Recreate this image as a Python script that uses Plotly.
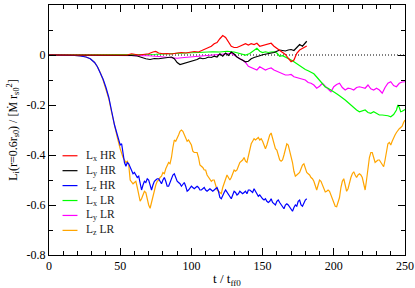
import plotly.graph_objects as go

# ---------------- data ----------------
t_lz_hr = [0, 10, 18, 22, 26, 29, 32, 34, 36, 38, 40, 42, 44, 46, 48, 49, 50, 51, 52, 53, 54, 55, 56, 57, 58, 59,
           60, 61, 62, 63, 64, 65, 66, 67, 68, 69, 70, 71, 72, 73, 74, 75, 76, 77, 78, 79, 80, 81, 82, 83, 84, 85,
           86, 87, 88, 89, 90, 91, 92, 93, 94, 95, 96, 97, 98, 99, 100, 101, 102, 103, 104, 105, 106, 107, 108,
           109, 110, 111, 112, 113, 114, 115, 116, 117, 118, 119, 120, 121, 122, 123, 124, 125, 126, 127, 128,
           129, 130, 131, 132, 133, 134, 135, 136, 137, 138, 139, 140, 141, 142, 143, 144, 145, 146, 147, 148,
           149, 150, 151, 152, 153, 154, 155, 156, 157, 158, 159, 160, 161, 162, 163, 164, 165, 166, 167, 168,
           169, 170, 171, 172, 173, 174, 175, 176, 177, 178, 179, 180, 181]
lz_hr = [0, 0, -0.002, -0.004, -0.008, -0.015, -0.03, -0.047, -0.07, -0.097, -0.13, -0.17, -0.225, -0.28, -0.32,
         -0.345, -0.36, -0.355, -0.39, -0.43, -0.445, -0.43, -0.435, -0.45, -0.46, -0.475,
         -0.47, -0.48, -0.49, -0.485, -0.51, -0.54, -0.52, -0.505, -0.51, -0.495, -0.5, -0.52, -0.54, -0.52, -0.505,
         -0.5, -0.495, -0.495, -0.505, -0.515, -0.5, -0.49, -0.505, -0.525, -0.525, -0.51,
         -0.495, -0.48, -0.475, -0.49, -0.505, -0.51, -0.515, -0.525, -0.515, -0.51, -0.525, -0.545, -0.54, -0.53,
         -0.525, -0.53, -0.535, -0.53, -0.525, -0.53, -0.54, -0.54, -0.535,
         -0.53, -0.54, -0.545, -0.54, -0.535, -0.54, -0.545, -0.54, -0.535, -0.53, -0.545, -0.57, -0.575, -0.56,
         -0.55, -0.54, -0.55, -0.56, -0.57, -0.575,
         -0.56, -0.545, -0.55, -0.56, -0.555, -0.545, -0.55, -0.555, -0.55, -0.545, -0.555, -0.54, -0.54, -0.545,
         -0.55, -0.535, -0.545, -0.56, -0.565, -0.56,
         -0.57, -0.575, -0.58, -0.575, -0.585, -0.59, -0.585, -0.575, -0.59, -0.595, -0.6, -0.585, -0.58, -0.59,
         -0.6, -0.61, -0.615, -0.6, -0.595, -0.6,
         -0.61, -0.62, -0.625, -0.61, -0.6, -0.605, -0.585, -0.58, -0.6, -0.605, -0.59, -0.58, -0.575]

t_lz_lr = [0, 10, 18, 22, 26, 29, 32, 34, 36, 38, 40, 42, 44, 46, 48, 50, 51, 52, 53, 54, 55, 56, 57, 58, 59,
           60, 61, 62, 63, 64, 65, 66, 67, 68, 69, 70, 71, 72, 73, 74, 75, 76, 77, 78, 79, 80, 81, 82, 83, 84, 85,
           86, 87, 88, 89, 90, 91, 92, 93, 94, 95, 96, 97, 98, 99, 100, 101, 102, 103, 104, 105, 106, 107, 108,
           109, 110, 111, 112, 113, 114, 115, 116, 117, 118, 119, 120, 121, 122, 123, 124, 125, 126, 127, 128,
           129, 130, 131, 132, 133, 134, 135, 136, 137, 138, 139, 140, 141, 142, 143, 144, 145, 146, 147, 148,
           149, 150, 151, 152, 153, 154, 155, 156, 157, 158, 159, 160, 161, 162, 163, 164, 165, 166, 167, 168,
           169, 170, 171, 172, 173, 174, 175, 176, 177, 178, 179, 180, 181, 182, 183, 184, 185, 186, 187, 188,
           189, 190, 191, 192, 193, 194, 195, 196, 197, 198, 199, 200, 201, 202, 203, 204, 205, 206, 207, 208,
           209, 210, 211, 212, 213, 214, 215, 216, 217, 218, 219, 220, 221, 222, 223, 224, 225, 226, 227, 228,
           229, 230, 231, 232, 233, 234, 235, 236, 237, 238, 239, 240, 241, 242, 243, 244, 245, 246, 247, 248,
           249, 250]
lz_lr = [0, 0, -0.002, -0.004, -0.008, -0.015, -0.03, -0.047, -0.07, -0.1, -0.135, -0.175, -0.23, -0.285, -0.33,
         -0.375, -0.395, -0.41, -0.42, -0.43, -0.425, -0.44, -0.5, -0.51, -0.515,
         -0.51, -0.505, -0.53, -0.56, -0.585, -0.575, -0.555, -0.545, -0.55, -0.58, -0.6, -0.613, -0.59, -0.56,
         -0.535, -0.52, -0.505, -0.5, -0.49, -0.485, -0.47, -0.475, -0.455, -0.44, -0.43, -0.435,
         -0.41, -0.37, -0.34, -0.345, -0.335, -0.32, -0.305, -0.3, -0.305, -0.32, -0.33, -0.345, -0.34, -0.35,
         -0.36, -0.385, -0.39, -0.39, -0.39, -0.41, -0.44, -0.445, -0.45,
         -0.46, -0.46, -0.48, -0.49, -0.5, -0.505, -0.5, -0.5, -0.52, -0.54, -0.545, -0.55, -0.555, -0.53, -0.51,
         -0.49, -0.48, -0.49, -0.5, -0.49,
         -0.47, -0.46, -0.465, -0.46, -0.445, -0.43, -0.425, -0.42, -0.41, -0.425, -0.43, -0.4, -0.38, -0.355,
         -0.345, -0.335, -0.34, -0.335, -0.33, -0.34,
         -0.335, -0.345, -0.36, -0.375, -0.36, -0.34, -0.32, -0.312, -0.33, -0.35, -0.375, -0.38, -0.4, -0.42,
         -0.425, -0.42, -0.4, -0.38, -0.355, -0.36,
         -0.385, -0.4, -0.43, -0.465, -0.485, -0.48, -0.475, -0.47, -0.455, -0.44, -0.435, -0.455, -0.47, -0.475,
         -0.48, -0.49, -0.495, -0.505, -0.52, -0.54,
         -0.52, -0.5, -0.505, -0.52, -0.54, -0.548, -0.545, -0.54, -0.545, -0.56, -0.58, -0.595, -0.605, -0.607,
         -0.59, -0.57, -0.53, -0.505, -0.495, -0.52,
         -0.545, -0.535, -0.51, -0.49, -0.475, -0.467, -0.48, -0.49, -0.48, -0.475, -0.48, -0.49, -0.515, -0.54,
         -0.5, -0.45, -0.41, -0.39, -0.39, -0.41,
         -0.43, -0.425, -0.42, -0.42, -0.43, -0.44, -0.447, -0.42, -0.38, -0.355, -0.35, -0.36, -0.345, -0.33,
         -0.32, -0.31, -0.3, -0.295, -0.29, -0.285,
         -0.27, -0.26]

t_lx_hr = [0, 55, 58, 60, 63, 66, 70, 73, 75, 77, 80, 83, 86, 90, 93, 96, 99, 102, 105, 108, 111, 114, 116, 118,
           120, 122, 124, 126, 128, 130, 132, 134, 136, 138, 140, 142, 144, 146, 148, 150, 152, 154, 156, 158,
           160, 162, 164, 166, 168, 170, 172, 174, 176, 178, 180, 181]
lx_hr = [0, 0, 0.005, 0.002, 0, 0.002, 0.005, 0.012, 0.014, 0.008, 0.005, 0.006, 0.004, 0.008, 0.01, 0.008,
         0.012, 0.014, 0.012, 0.02, 0.03, 0.035, 0.045, 0.05, 0.065, 0.078, 0.07, 0.05, 0.035, 0.03, 0.03,
         0.035, 0.04, 0.045, 0.04, 0.045, 0.042, 0.047, 0.035, 0.038, 0.04, 0.045, 0.047, 0.035, 0.027, 0.02,
         0.01, 0.002, -0.013, -0.027, -0.02, 0.007, 0.02, 0.027, 0.033, 0.036]

t_ly_hr = [0, 55, 58, 62, 65, 68, 71, 74, 77, 80, 83, 86, 88, 90, 92, 94, 96, 98, 100, 102, 104, 106, 108, 110,
           112, 114, 116, 118, 120, 122, 124, 126, 128, 130, 132, 134, 136, 138, 140, 142, 144, 146, 148, 150,
           152, 154, 156, 158, 160, 162, 164, 166, 168, 170, 172, 174, 176, 178, 180, 181]
ly_hr = [0, 0, -0.002, -0.004, -0.01, -0.015, -0.018, -0.014, -0.015, -0.012, -0.01, -0.008, -0.015, -0.03,
         -0.038, -0.035, -0.03, -0.028, -0.025, -0.02, -0.018, -0.012, -0.015, -0.013, -0.008, -0.01, -0.005,
         -0.008, 0.005, -0.005, 0.008, -0.002, 0.012, 0.004, -0.008, -0.015, -0.022, -0.027, -0.025, -0.015,
         -0.01, -0.005, -0.003, 0.001, 0.003, 0.005, 0.008, 0.01, 0.015, 0.02, 0.018, 0.016, 0.02, 0.022, 0.018,
         0.03, 0.042, 0.035, 0.05, 0.055]

t_lx_lr = [0, 60, 65, 70, 75, 80, 85, 90, 95, 100, 105, 110, 115, 120, 125, 130, 135, 138, 141, 144, 146, 148,
           150, 152, 154, 156, 158, 160, 162, 164, 166, 168, 170, 172, 174, 176, 178, 180, 182, 184, 186, 188,
           190, 192, 194, 196, 198, 200, 202, 204, 206, 208, 210, 212, 214, 216, 218, 220, 222, 224, 226, 228,
           230, 232, 234, 236, 238, 240, 242, 244, 245, 246, 247, 248, 249, 250]
lx_lr = [0, 0, 0.001, 0.002, 0.003, 0.004, 0.006, 0.007, 0.008, 0.009, 0.01, 0.012, 0.013, 0.012, 0.015, 0.012,
         0.005, 0.0, 0.006, 0.02, 0.027, 0.015, 0.01, 0.013, 0.01, 0.012, 0.013, 0.008, -0.005, -0.003, -0.008,
         -0.015, -0.02, -0.027, -0.035, -0.045, -0.053, -0.058, -0.063, -0.07, -0.075, -0.088, -0.1, -0.115,
         -0.128, -0.133, -0.14, -0.145, -0.155, -0.163, -0.17, -0.18, -0.19, -0.2, -0.213, -0.22, -0.227, -0.222,
         -0.22, -0.23, -0.233, -0.227, -0.235, -0.24, -0.24, -0.24, -0.243, -0.247, -0.238, -0.22, -0.2, -0.21,
         -0.227, -0.225, -0.22, -0.218]

t_ly_lr = [0, 60, 65, 70, 75, 80, 85, 90, 95, 100, 105, 110, 115, 120, 125, 128, 130, 132, 134, 136, 138, 140,
           142, 144, 146, 148, 150, 152, 154, 156, 158, 160, 162, 164, 166, 168, 170, 172, 174, 176, 178, 180,
           182, 184, 186, 188, 190, 192, 194, 196, 198, 200, 202, 204, 206, 208, 210, 212, 214, 216, 218, 220,
           222, 224, 226, 228, 230, 232, 234, 236, 238, 240, 242, 244, 246, 248, 250]
ly_lr = [0, 0, -0.002, -0.003, -0.005, -0.008, -0.013, -0.013, -0.01, -0.008, -0.005, -0.003, 0, 0.003, 0.005,
         0.007, 0, -0.01, -0.015, -0.02, -0.03, -0.045, -0.05, -0.058, -0.06, -0.047, -0.052, -0.06, -0.055,
         -0.052, -0.06, -0.065, -0.073, -0.075, -0.08, -0.08, -0.078, -0.087, -0.09, -0.093, -0.095, -0.1, -0.11,
         -0.113, -0.12, -0.133, -0.125, -0.113, -0.125, -0.135, -0.147, -0.127, -0.118, -0.113, -0.13, -0.14,
         -0.133, -0.135, -0.14, -0.13, -0.127, -0.13, -0.133, -0.12, -0.135, -0.14, -0.133, -0.14, -0.153, -0.13,
         -0.113, -0.107, -0.122, -0.127, -0.113, -0.108, -0.107]

zero_t = [0, 250]
zero_v = [0, 0]

series_names = ["L<sub>x</sub> HR", "L<sub>y</sub> HR", "L<sub>z</sub> HR",
                "L<sub>x</sub> LR", "L<sub>y</sub> LR", "L<sub>z</sub> LR"]
y_tickvals = [0.2, 0, -0.2, -0.4, -0.6, -0.8]
y_ticktext = ["0.2", "0", "-0.2", "-0.4", "-0.6", "-0.8"]
x_tickvals = [0, 50, 100, 150, 200, 250]
x_ticktext = ["0", "50", "100", "150", "200", "250"]

# ---------------- figure ----------------
FONT = "Liberation Serif"
fig = go.Figure()
fig.add_trace(go.Scatter(x=zero_t, y=zero_v, mode="lines", showlegend=False,
                         line=dict(color="black", width=1, dash="1px,2px"), hoverinfo="skip"))

xs = [t_lx_hr, t_ly_hr, t_lz_hr, t_lx_lr, t_ly_lr, t_lz_lr]
ys = [lx_hr, ly_hr, lz_hr, lx_lr, ly_lr, lz_lr]
colors = ["#ff0000", "#000000", "#0000ff", "#00ff00", "#ff00ff", "#ffa500"]
order = [5, 4, 3, 2, 1, 0]  # draw LR first, HR on top
for i in order:
    fig.add_trace(go.Scatter(x=xs[i], y=ys[i], mode="lines", name=series_names[i],
                             line=dict(color=colors[i], width=1.2), showlegend=False))

# compact legend (drawn as paper-anchored samples + labels)
leg_x0, leg_x1, leg_tx = 0.038, 0.080, 0.097
leg_top, leg_step = 0.397, 0.0597
for i in range(6):
    yy = leg_top - i * leg_step
    fig.add_shape(type="line", xref="paper", yref="paper", x0=leg_x0, x1=leg_x1, y0=yy, y1=yy,
                  line=dict(color=colors[i], width=1.2))
    fig.add_annotation(xref="paper", yref="paper", x=leg_tx, y=yy, xanchor="left", yanchor="middle",
                       text=series_names[i], showarrow=False,
                       font=dict(family=FONT, size=11.5, color="#222222"))

axis_common = dict(showline=True, linecolor="black", linewidth=1, mirror="allticks",
                   ticks="inside", ticklen=7, tickcolor="black", tickwidth=1,
                   showgrid=False, zeroline=False,
                   tickfont=dict(family=FONT, size=12, color="black"))

fig.update_xaxes(range=[0, 250], tickvals=x_tickvals, ticktext=x_ticktext,
                 minor=dict(ticks="inside", ticklen=4, dtick=10, tickcolor="black", showgrid=False),
                 title=dict(text="t / t<sub>ff0</sub>", font=dict(family=FONT, size=13, color="black"),
                            standoff=4),
                 **axis_common)
fig.update_yaxes(range=[-0.8, 0.2], tickvals=y_tickvals, ticktext=y_ticktext,
                 minor=dict(ticks="inside", ticklen=4, tickvals=[0.1, -0.1, -0.3, -0.5, -0.7],
                            tickcolor="black", showgrid=False),
                 title=dict(text="L<sub>i</sub>(r=0.6r<sub>s0</sub>) / [Ṁ r<sub>s0</sub><sup>2</sup>]",
                            font=dict(family=FONT, size=12, color="black"), standoff=6),
                 **axis_common)

fig.update_layout(
    width=415, height=288,
    margin=dict(l=49, r=10, t=5, b=33, autoexpand=False),
    paper_bgcolor="white", plot_bgcolor="white",
    showlegend=False,
)

fig.write_html("out.html", config={"displayModeBar": False},
               post_script="document.body.style.margin='0';")
